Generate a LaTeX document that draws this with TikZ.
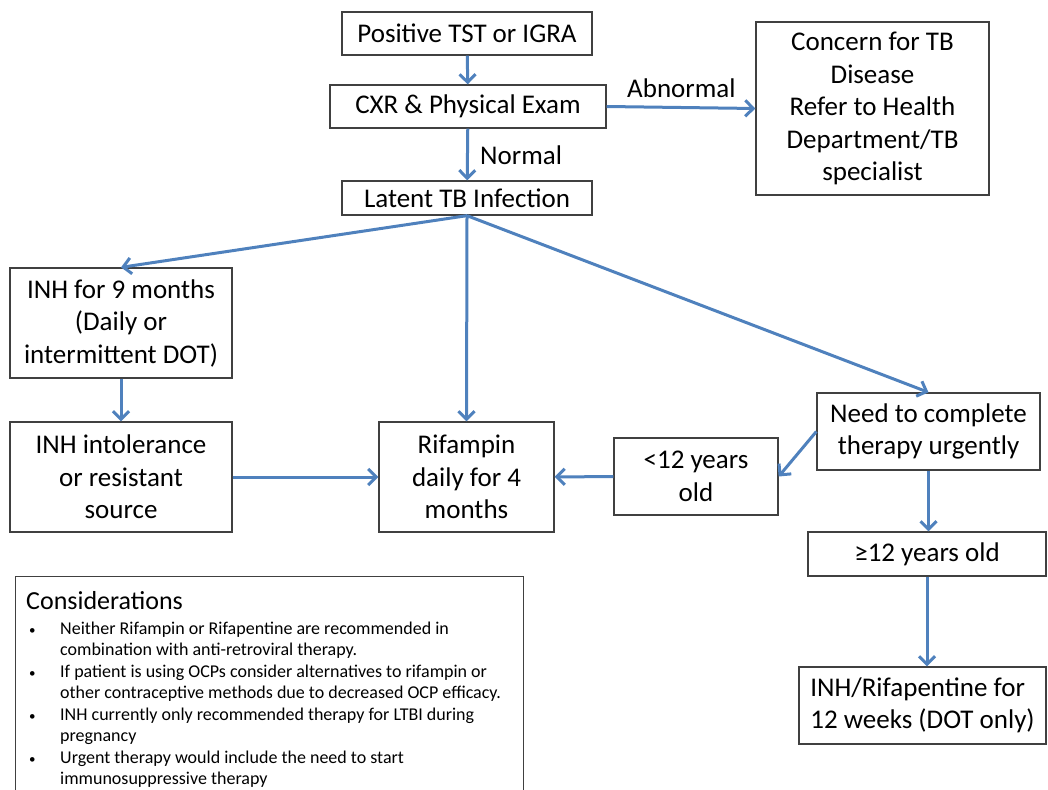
\documentclass[tikz,border=0pt]{standalone}
\usepackage{fontspec}
\setmainfont{Carlito}
\usetikzlibrary{arrows.meta}
\definecolor{flowblue}{RGB}{79,129,189}
\newcommand\conbullet{\hspace*{3pt}\makebox[31pt][l]{\fontsize{13}{13}\selectfont\textbullet}}
\newcommand\conindent{\hspace*{34pt}}
\newcommand\confont{\fontsize{18}{21.5}\selectfont\lineskiplimit=-20pt\relax}

\begin{document}
\begin{tikzpicture}[x=1pt, y=-1pt,
  stepbox/.style={draw=black!75, line width=1.3pt, align=center, inner sep=0pt,
    font=\fontsize{27}{32.5}\selectfont},
  flow/.style={draw=flowblue, line width=3pt, -{Straight Barb[length=8pt,width=16pt]}},
  tag/.style={font=\fontsize{27}{32.5}\selectfont, inner sep=0pt, anchor=west},
]
\useasboundingbox (0,0) rectangle (1048,789);

% main column
\node[stepbox, minimum width=250pt, minimum height=43pt] (pos)    at (467,33.5)  {Positive TST or IGRA};
\node[stepbox, minimum width=276pt, minimum height=43pt] (cxr)    at (468,106.5) {CXR \& Physical Exam};
\node[stepbox, minimum width=250pt, minimum height=34pt] (latent) at (467,198)   {Latent TB Infection};
\node[stepbox, minimum width=233pt, minimum height=173pt](concern) at (872.5,108.5)
  {Concern for TB\\Disease\\Refer to Health\\Department/TB\\specialist};

% treatment options
\node[stepbox, minimum width=222pt, minimum height=110pt] (inh9)   at (121,323)   {INH for 9 months\\(Daily or\\intermittent DOT)};
\node[stepbox, minimum width=222pt, minimum height=110pt] (inhint) at (121,477)   {INH intolerance\\or resistant\\source};
\node[stepbox, minimum width=175pt, minimum height=110pt] (rif)    at (466.5,477) {Rifampin\\daily for 4\\months};
\node[stepbox, minimum width=164pt, minimum height=77pt]  (lt12)   at (696,476.5) {<12 years\\old};
\node[stepbox, minimum width=223pt, minimum height=77pt]  (need)   at (928.5,431.5) {Need to complete\\therapy urgently};
\node[stepbox, minimum width=238pt, minimum height=44pt]  (ge12)   at (927,554)   {≥12 years old};
\node[stepbox, minimum width=247pt, minimum height=77pt, align=left] (inhrif) at (922.5,705.5)
  {INH/Rifapentine for\\12 weeks (DOT only)};

% considerations, frame runs off the bottom
\node[draw=black!75, line width=1.3pt, anchor=north west, minimum width=508pt, minimum height=230pt] (conframe) at (15,576) {};
\node[anchor=north west, inner sep=0pt, align=left, font=\confont] (consider)
  at ([xshift=11pt,yshift=-15pt]conframe.north west)
  {{\fontsize{26}{28}\selectfont Considerations}\\[3.5pt]
   \conbullet Neither Rifampin or Rifapentine are recommended in\\
   \conindent combination with anti-retroviral therapy.\\
   \conbullet If patient is using OCPs consider alternatives to rifampin or\\
   \conindent other contraceptive methods due to decreased OCP efficacy.\\
   \conbullet INH currently only recommended therapy for LTBI during\\
   \conindent pregnancy\\
   \conbullet Urgent therapy would include the need to start\\
   \conindent immunosuppressive therapy};

% labels
\node[tag] (normal)   at (480,155) {Normal};
\node[tag] (abnormal) at (627,88)  {Abnormal};

% connectors
\draw[flow] (pos) -- (cxr);
\draw[flow] (cxr) -- (latent);
\draw[flow] (cxr.east) -- (concern.west);
\draw[flow] (latent.south) -- (inh9.north);
\draw[flow] (latent.south) -- (rif.north);
\draw[flow] (latent.south) -- (need.north);
\draw[flow] (inh9) -- (inhint);
\draw[flow] (inhint) -- (rif);
\draw[flow] (lt12) -- (rif);
\draw[flow] (need.west) -- (lt12.east);
\draw[flow] (need.south) -- (need.south |- ge12.north);
\draw[flow] (ge12.south) -- (ge12.south |- inhrif.north);
\end{tikzpicture}
\end{document}
